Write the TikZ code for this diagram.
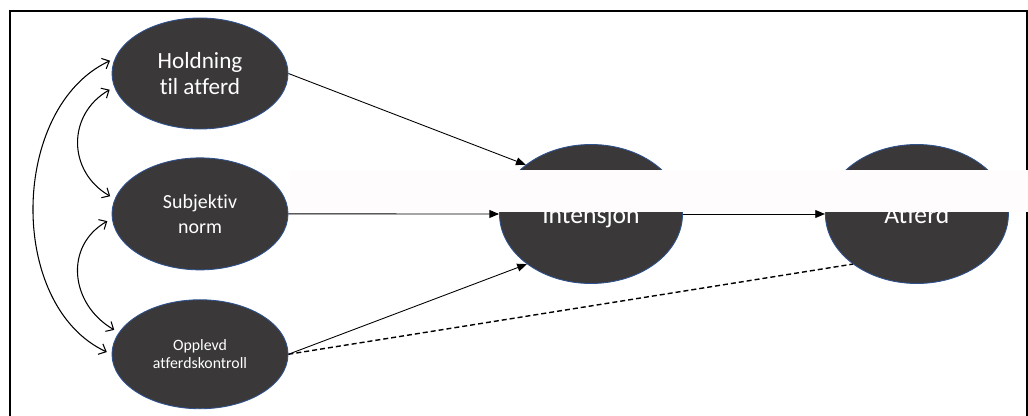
\documentclass[tikz,border=0pt]{standalone}
\usepackage{fontspec}
\setmainfont{Carlito}[Ligatures=NoCommon]
\usepackage{tikz}
\usetikzlibrary{arrows.meta,positioning,shapes.geometric}
\definecolor{ovalfill}{HTML}{3A3838}
\definecolor{ovalline}{HTML}{2F528F}
\definecolor{bandcol}{HTML}{FFFCFD}

\begin{document}
\begin{tikzpicture}[
  oval/.style={ellipse, draw=ovalline, line width=0.5pt, fill=ovalfill, text=white, inner sep=0pt},
  small/.style={oval, align=center, minimum width=3.52cm, minimum height=2.22cm},
  big/.style={oval, minimum width=3.66cm, minimum height=2.78cm, text height=0.38cm, text depth=0pt, font=\fontsize{14.6}{16}\selectfont},
  arrow/.style={-{Triangle[length=5.5pt,width=4.5pt]}, line width=0.5pt},
  link/.style={{Straight Barb[length=3.5pt,width=6.5pt]}-{Straight Barb[length=3.5pt,width=6.5pt]}, line width=0.6pt, shorten <=3pt, shorten >=3pt},
  dashedline/.style={line width=0.8pt, dash pattern=on 0.1cm off 0.06cm}
]
\useasboundingbox (0,0) rectangle (20.56,-8.32);
\draw[line width=1.1pt] (0.2,-8.32) -- (0.2,-0.22) -- (20.54,-0.22) -- (20.54,-8.32);
\node[small, font=\fontsize{13.2}{14.7}\selectfont] (hold) at (4.00,-1.47) {Holdning\\til atferd};
\node[small, minimum height=2.24cm, below=0.56cm of hold, font=\fontsize{11.35}{14.2}\selectfont] (subj) {Subjektiv\\norm};
\node[small, minimum height=2.18cm, below=0.58cm of subj, font=\fontsize{9}{10.4}\selectfont] (opp) {Opplevd\\atferdskontroll};
\node[big] (int) at (11.82,-4.28) {Intensjon};
\node[big, right=2.84cm of int] (atf) {Atferd};
\fill[bandcol] (5.8,-3.40) rectangle (20.56,-4.24);
\draw[arrow] (hold.east) -- (int.143);
\draw[arrow] (subj.east) -- (int.west);
\draw[arrow] (opp.east) -- (int.218);
\draw[arrow] (int.east) -- (atf.west);
\draw[dashedline] (opp.east) -- (atf.218);
\draw[link] (hold.170) to[out=205, in=155] (opp.180);
\draw[link] (hold.189) to[out=210, in=150, looseness=1.25] (subj.170);
\draw[link] (subj.183) to[out=210, in=150, looseness=1.25] (opp.165);
\end{tikzpicture}
\end{document}
